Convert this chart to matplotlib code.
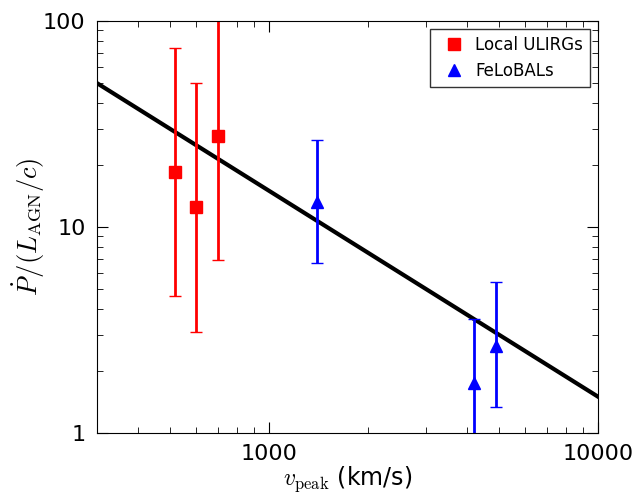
import matplotlib
matplotlib.use("Agg")
import matplotlib.pyplot as plt
from matplotlib.lines import Line2D

plt.rcParams['mathtext.fontset'] = 'cm'
plt.rcParams['font.family'] = 'DejaVu Sans'

# Local ULIRGs
ulirg_v = [520, 600, 700]
ulirg_p = [18.4, 12.5, 27.8]
ulirg_lo = [4.6, 3.1, 6.9]
ulirg_hi = [74, 50, 120]

# FeLoBALs
felo_v = [1400, 4200, 4900]
felo_p = [13.2, 1.75, 2.65]
felo_lo = [6.7, 0.8, 1.34]
felo_hi = [26.5, 3.56, 5.4]

# model line
line_v = [300, 10000]
line_p = [50, 1.5]

fig = plt.figure(figsize=(6.41, 4.94), dpi=100)
ax = fig.add_axes([0.151, 0.1235, 0.782, 0.834])

ax.plot(line_v, line_p, color='k', lw=3)

yerr_u = [[p - lo for p, lo in zip(ulirg_p, ulirg_lo)],
          [hi - p for p, hi in zip(ulirg_p, ulirg_hi)]]
yerr_f = [[p - lo for p, lo in zip(felo_p, felo_lo)],
          [hi - p for p, hi in zip(felo_p, felo_hi)]]

ax.errorbar(ulirg_v, ulirg_p, yerr=yerr_u, fmt='s', color='red', mec='red',
            ms=8, elinewidth=2, capsize=4, capthick=1)
ax.errorbar(felo_v, felo_p, yerr=yerr_f, fmt='^', color='blue', mec='blue',
            ms=8, elinewidth=2, capsize=4, capthick=1)

ax.set_xscale('log')
ax.set_yscale('log')
ax.set_xlim(300, 10000)
ax.set_ylim(1, 100)
ax.set_xticks([1000, 10000])
ax.set_xticklabels(['1000', '10000'])
ax.set_yticks([1, 10, 100])
ax.set_yticklabels(['1', '10', '100'])
ax.tick_params(which='both', direction='in', top=True, right=True, labelsize=16)
ax.tick_params(which='major', length=8, pad=8)
ax.tick_params(which='minor', length=4)

ax.set_xlabel(r'$v_{\rm peak}$ (km/s)', fontsize=17, labelpad=0)
ax.set_ylabel(r'$\dot P/(L_{\rm AGN}/c)$', fontsize=19, labelpad=-3)

handles = [Line2D([], [], ls='none', marker='s', color='red', mec='red', ms=8),
           Line2D([], [], ls='none', marker='^', color='blue', mec='blue', ms=8)]
leg = ax.legend(handles, ['Local ULIRGs', 'FeLoBALs'], loc='upper right',
                numpoints=1, fontsize=12, fancybox=False,
                handletextpad=0.3, borderaxespad=0.5)
leg.get_frame().set_edgecolor('k')
leg.get_frame().set_linewidth(1)

fig.savefig('out.png', dpi=100)
